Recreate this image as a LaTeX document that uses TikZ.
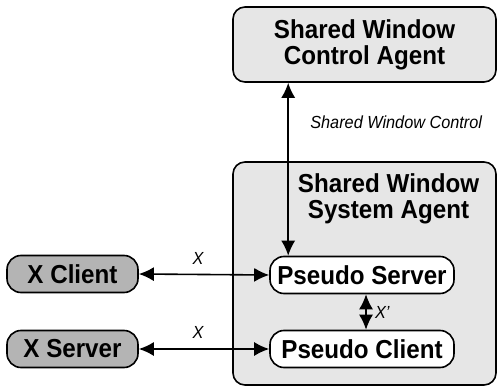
\documentclass[tikz,border=0pt]{standalone}
\usepackage{fontspec}
\setmainfont{Liberation Sans}[FakeStretch=0.93]
\usetikzlibrary{arrows.meta}
\definecolor{panelgray}{HTML}{E6E6E6}
\definecolor{hostgray}{HTML}{B4B4B4}

\begin{document}
\begin{tikzpicture}[x=1pt, y=-1pt,
  panel/.style={draw=black, fill=panelgray, rounded corners=12pt, line width=1.6pt, inner sep=0pt},
  pill/.style={draw=black, rounded corners=14pt, line width=1.6pt, inner sep=0pt,
    minimum height=37pt, font=\fontsize{26}{26}\selectfont\bfseries},
  title/.style={align=center, font=\fontsize{26}{26}\selectfont\bfseries},
  lbl/.style={font=\fontsize{17.5}{17.5}\selectfont\itshape},
  arr/.style={{Latex[length=15pt,width=14pt]}-{Latex[length=15pt,width=14pt]}, line width=1.6pt}]
\useasboundingbox (0,0) rectangle (497,387);

\node[panel, minimum width=263pt, minimum height=75pt] at (364.5,44.5) (ctrl) {};
\node[title] at (ctrl) {Shared Window\\Control Agent};

\node[panel, minimum width=263pt, minimum height=223pt] at (364.5,273.5) (sys) {};
\node[title, anchor=north] at ([xshift=24pt, yshift=-9pt]sys.north) (systxt) {Shared Window\\System Agent};

\node[pill, fill=white, minimum width=184pt] at (362,275) (ps) {Pseudo Server};
\node[pill, fill=white, minimum width=184pt] at (362,349) (pc) {Pseudo Client};
\node[pill, fill=hostgray, minimum width=131pt] at (72.5,274) (xc) {X Client};
\node[pill, fill=hostgray, minimum width=131pt] at (72.5,349) (xs) {X Server};

\draw[arr] ([xshift=19pt]ps.north west |- ctrl.south) -- node[lbl, pos=0.23, right=18pt] {Shared Window Control} ([xshift=19pt]ps.north west);
\draw[arr] (xc.east) -- node[lbl, above=6pt, xshift=-6pt] {X} (ps.west);
\draw[arr] (xs.east) -- node[lbl, above=6pt, xshift=-6pt] {X} (pc.west);
\draw[arr] ([xshift=4pt]ps.south) -- node[lbl, right=5pt] {X'} ([xshift=4pt]pc.north);
\end{tikzpicture}
\end{document}
